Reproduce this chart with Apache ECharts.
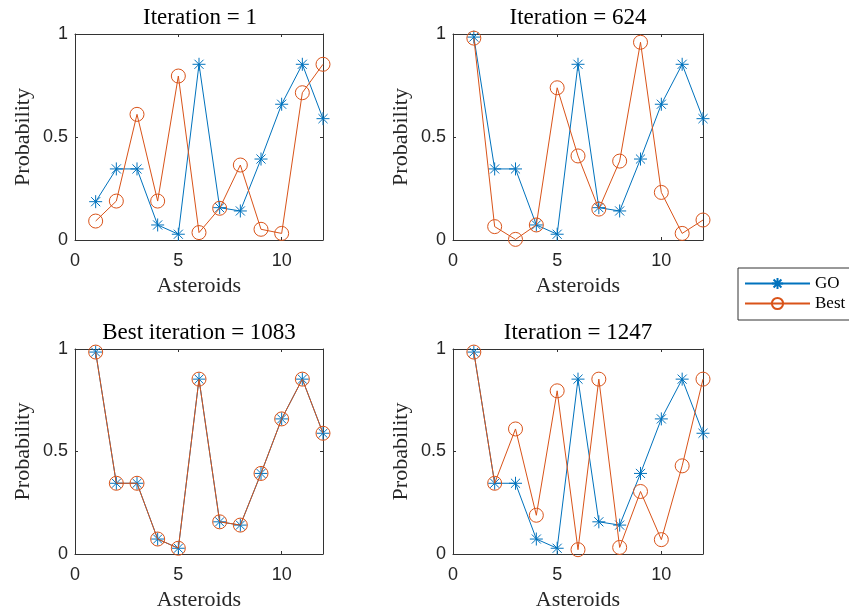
<!DOCTYPE html>
<html><head><meta charset="utf-8">
<script src="https://cdn.jsdelivr.net/npm/echarts@6/dist/echarts.min.js"></script>
<style>html,body{margin:0;padding:0;background:#fff}#c{width:849px;height:612px}</style>
</head><body><div id="c"></div>
<script>
// ---- data ----
const asteroids = [1,2,3,4,5,6,7,8,9,10,11,12];
const titles = ['Iteration = 1', 'Iteration = 624', 'Best iteration = 1083', 'Iteration = 1247'];
const xTickValues = [0, 5, 10];
const yTickValues = [0, 0.5, 1];
const yTickLabels = ['0', '0.5', '1'];

const goIter1    = [0.186,0.345,0.345,0.073,0.028,0.853,0.157,0.141,0.393,0.659,0.853,0.589];
const goIter624  = [0.985,0.345,0.345,0.073,0.028,0.853,0.157,0.141,0.393,0.659,0.853,0.589];
const goIter1083 = [0.985,0.345,0.345,0.073,0.028,0.853,0.157,0.141,0.393,0.659,0.853,0.589];
const goIter1247 = [0.985,0.345,0.345,0.073,0.028,0.853,0.157,0.141,0.393,0.659,0.853,0.589];

const bestIter1    = [0.092,0.189,0.610,0.189,0.796,0.036,0.154,0.364,0.052,0.032,0.715,0.853];
const bestIter624  = [0.980,0.065,0.003,0.073,0.739,0.408,0.150,0.383,0.960,0.231,0.032,0.097];
const bestIter1083 = [0.985,0.345,0.345,0.073,0.028,0.853,0.157,0.141,0.393,0.659,0.853,0.589];
const bestIter1247 = [0.985,0.345,0.610,0.189,0.796,0.021,0.853,0.032,0.305,0.070,0.430,0.853];

const goSets = [goIter1, goIter624, goIter1083, goIter1247];
const bestSets = [bestIter1, bestIter624, bestIter1083, bestIter1247];

// ---- styling ----
const BLUE = '#0072BD', ORANGE = '#D95319', AX = '#333333', TXT = '#262626';
const SERIF = '"Liberation Serif", "DejaVu Serif", serif';
const SANS = '"Liberation Sans", Arial, sans-serif';
const ASTER = 'path://M10,0L10,20M0,10L20,10M3,3L17,17M3,17L17,3';

const grids = [
  {left: 75,  top: 34,  width: 248, height: 206},
  {left: 453, top: 34,  width: 250, height: 206},
  {left: 75,  top: 349, width: 248, height: 205},
  {left: 453, top: 349, width: 250, height: 205}
];
const titlePos = [[200, 6], [578, 6], [199, 321], [578, 321]];

const xAxis = [], yAxis = [], series = [], title = [];
grids.forEach((g, i) => {
  ['bottom', 'top'].forEach(pos => {
    const main = pos === 'bottom';
    xAxis.push({
      type: 'value', gridIndex: i, position: pos, min: 0, max: 12,
      axisLine: {show: true, onZero: false, lineStyle: {color: AX, width: 1}},
      axisTick: {show: true, inside: true, length: 3, customValues: xTickValues, lineStyle: {color: AX}},
      axisLabel: {show: main, customValues: xTickValues, margin: 12, color: TXT, fontFamily: SANS, fontSize: 18},
      splitLine: {show: false},
      name: main ? 'Asteroids' : '', nameLocation: 'middle', nameGap: 35,
      nameTextStyle: {color: TXT, fontFamily: SERIF, fontSize: 22}
    });
  });
  ['left', 'right'].forEach(pos => {
    const main = pos === 'left';
    yAxis.push({
      type: 'value', gridIndex: i, position: pos, min: 0, max: 1,
      axisLine: {show: true, onZero: false, lineStyle: {color: AX, width: 1}},
      axisTick: {show: true, inside: true, length: 3, customValues: yTickValues, lineStyle: {color: AX}},
      axisLabel: {show: main, customValues: yTickValues, margin: 7, color: TXT, fontFamily: SANS, fontSize: 18,
        formatter: v => yTickLabels[yTickValues.indexOf(v)] ?? ''},
      splitLine: {show: false},
      name: main ? 'Probability' : '', nameLocation: 'middle', nameGap: 41, nameRotate: 90,
      nameTextStyle: {color: TXT, fontFamily: SERIF, fontSize: 22}
    });
  });
  title.push({
    text: titles[i], left: titlePos[i][0], top: titlePos[i][1], textAlign: 'center', padding: 0,
    textStyle: {color: '#000', fontFamily: SERIF, fontSize: 23, fontWeight: 'normal'}
  });
  series.push({
    name: 'GO', type: 'line', xAxisIndex: i * 2, yAxisIndex: i * 2,
    data: asteroids.map((a, k) => [a, goSets[i][k]]),
    symbol: ASTER, symbolSize: 13, symbolKeepAspect: true,
    lineStyle: {color: BLUE, width: 1},
    itemStyle: {color: BLUE, borderColor: BLUE, borderWidth: 1},
    animation: false, z: 2
  });
  series.push({
    name: 'Best', type: 'line', xAxisIndex: i * 2, yAxisIndex: i * 2,
    data: asteroids.map((a, k) => [a, bestSets[i][k]]),
    symbol: 'circle', symbolSize: 14,
    lineStyle: {color: ORANGE, width: 1},
    itemStyle: {color: 'rgba(255,255,255,0)', borderColor: ORANGE, borderWidth: 1},
    animation: false, z: 3
  });
});

const chart = echarts.init(document.getElementById('c'), null, {renderer: 'canvas'});
chart.setOption({
  backgroundColor: '#fff',
  animation: false,
  title: title,
  grid: grids.map(g => Object.assign({containLabel: false, show: false}, g)),
  xAxis: xAxis, yAxis: yAxis, series: series,
  legend: {
    data: ['GO', 'Best'], orient: 'vertical', left: 738, top: 268,
    padding: [7, 30, 8, 6], itemWidth: 65, itemHeight: 14, itemGap: 3,
    borderColor: '#333', borderWidth: 1, backgroundColor: '#fff',
    textStyle: {color: '#000', fontFamily: SERIF, fontSize: 17}
  }
});
</script>
</body></html>
